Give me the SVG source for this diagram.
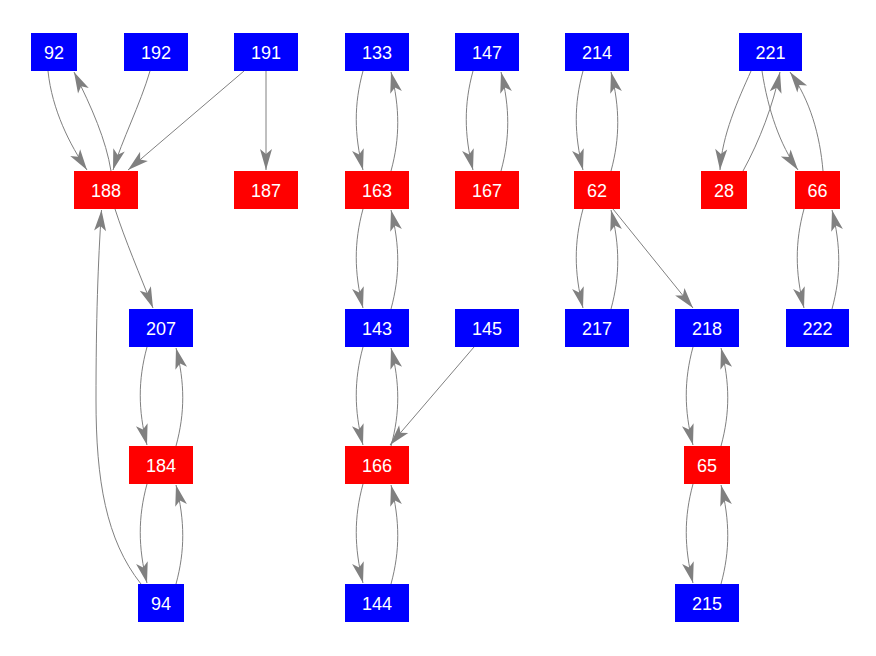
<svg xmlns="http://www.w3.org/2000/svg" width="876" height="656" viewBox="0 0 876 656">
<style>
.b{fill:#0000ff}
.r{fill:#ff0000}
text{font-family:"Liberation Sans",Arial,sans-serif;font-size:18px;fill:#ffffff;text-anchor:middle}
.e{fill:none;stroke:#808080;stroke-width:1;marker-end:url(#ah)}
</style>
<defs>
<marker id="ah" viewBox="-22 -7 23 14" refX="0" refY="0" markerWidth="23" markerHeight="14" markerUnits="userSpaceOnUse" orient="auto">
<path d="M0,0 L-21,-6 L-16,0 L-21,6 Z" fill="#808080"/>
</marker>
</defs>
<rect width="876" height="656" fill="#ffffff"/>
<g id="edges">
<!-- left cluster -->
<path class="e" d="M48,71 C52,110 70,145 87,170"/>
<path class="e" d="M111,171 C106,140 92,108 74,72"/>
<path class="e" d="M150,71 C140,105 122,140 113,170"/>
<path class="e" d="M244,71 L128,170"/>
<path class="e" d="M266,71 L266,170"/>
<path class="e" d="M115,209 C125,240 140,275 153,308"/>
<path class="e" d="M141,584 C106,540 96,480 96,400 C96,320 98,262 101.5,210"/>
<path class="e" d="M147,347 C138,380 138,410 147,445"/>
<path class="e" d="M176,446 C185,413 185,383 176,348"/>
<path class="e" d="M147,484 C138,517 138,547 147,583"/>
<path class="e" d="M176,584 C185,551 185,521 176,485"/>
<!-- middle cluster -->
<path class="e" d="M363,71 C354,104 354,134 363,170"/>
<path class="e" d="M391,171 C400,138 400,108 391,72"/>
<path class="e" d="M473,71 C464,104 464,134 473,170"/>
<path class="e" d="M501,171 C510,138 510,108 501,72"/>
<path class="e" d="M363,209 C354,242 354,272 363,308"/>
<path class="e" d="M391,309 C400,276 400,246 391,210"/>
<path class="e" d="M363,347 C354,380 354,410 363,445"/>
<path class="e" d="M391,446 C400,413 400,383 391,348"/>
<path class="e" d="M474,347 L390,445"/>
<path class="e" d="M363,484 C354,517 354,547 363,583"/>
<path class="e" d="M391,584 C400,551 400,521 391,485"/>
<!-- right cluster -->
<path class="e" d="M583,71 C574,104 574,134 583,170"/>
<path class="e" d="M611,171 C620,138 620,108 611,72"/>
<path class="e" d="M583,209 C574,242 574,272 583,308"/>
<path class="e" d="M611,309 C620,276 620,246 611,210"/>
<path class="e" d="M613,209 L693,308"/>
<path class="e" d="M751,71 C738,100 722,135 720,170"/>
<path class="e" d="M743,171 C760,140 773,105 780,72"/>
<path class="e" d="M762,71 C768,110 780,145 798,170"/>
<path class="e" d="M823,171 C820,135 810,100 790,72"/>
<path class="e" d="M804,209 C795,242 795,272 804,308"/>
<path class="e" d="M832,309 C841,276 841,246 832,210"/>
<path class="e" d="M693,347 C684,380 684,410 693,445"/>
<path class="e" d="M721,446 C730,413 730,383 721,348"/>
<path class="e" d="M693,484 C684,517 684,547 693,583"/>
<path class="e" d="M721,584 C730,551 730,521 721,485"/>
</g>
<g id="n92"><rect class="b" x="31" y="33" width="46" height="38"/><text x="54" y="59">92</text></g>
<g id="n192"><rect class="b" x="124" y="33" width="64" height="38"/><text x="156" y="59">192</text></g>
<g id="n191"><rect class="b" x="234" y="33" width="64" height="38"/><text x="266" y="59">191</text></g>
<g id="n133"><rect class="b" x="345" y="33" width="64" height="38"/><text x="377" y="59">133</text></g>
<g id="n147"><rect class="b" x="455" y="33" width="64" height="38"/><text x="487" y="59">147</text></g>
<g id="n214"><rect class="b" x="565" y="33" width="64" height="38"/><text x="597" y="59">214</text></g>
<g id="n221"><rect class="b" x="739" y="33" width="63" height="38"/><text x="770.5" y="59">221</text></g>
<g id="n188"><rect class="r" x="74" y="171" width="64" height="38"/><text x="106" y="197">188</text></g>
<g id="n187"><rect class="r" x="234" y="171" width="64" height="38"/><text x="266" y="197">187</text></g>
<g id="n163"><rect class="r" x="345" y="171" width="64" height="38"/><text x="377" y="197">163</text></g>
<g id="n167"><rect class="r" x="455" y="171" width="64" height="38"/><text x="487" y="197">167</text></g>
<g id="n62"><rect class="r" x="574" y="171" width="46" height="38"/><text x="597" y="197">62</text></g>
<g id="n28"><rect class="r" x="701" y="171" width="46" height="38"/><text x="724" y="197">28</text></g>
<g id="n66"><rect class="r" x="795" y="171" width="45" height="38"/><text x="817.5" y="197">66</text></g>
<g id="n207"><rect class="b" x="129" y="309" width="64" height="38"/><text x="161" y="335">207</text></g>
<g id="n143"><rect class="b" x="345" y="309" width="64" height="38"/><text x="377" y="335">143</text></g>
<g id="n145"><rect class="b" x="455" y="309" width="64" height="38"/><text x="487" y="335">145</text></g>
<g id="n217"><rect class="b" x="565" y="309" width="64" height="38"/><text x="597" y="335">217</text></g>
<g id="n218"><rect class="b" x="675" y="309" width="64" height="38"/><text x="707" y="335">218</text></g>
<g id="n222"><rect class="b" x="786" y="309" width="63" height="38"/><text x="817.5" y="335">222</text></g>
<g id="n184"><rect class="r" x="129" y="446" width="64" height="38"/><text x="161" y="472">184</text></g>
<g id="n166"><rect class="r" x="345" y="446" width="64" height="38"/><text x="377" y="472">166</text></g>
<g id="n65"><rect class="r" x="684" y="446" width="46" height="38"/><text x="707" y="472">65</text></g>
<g id="n94"><rect class="b" x="138" y="584" width="46" height="38"/><text x="161" y="610">94</text></g>
<g id="n144"><rect class="b" x="345" y="584" width="64" height="38"/><text x="377" y="610">144</text></g>
<g id="n215"><rect class="b" x="675" y="584" width="64" height="38"/><text x="707" y="610">215</text></g>
</svg>
